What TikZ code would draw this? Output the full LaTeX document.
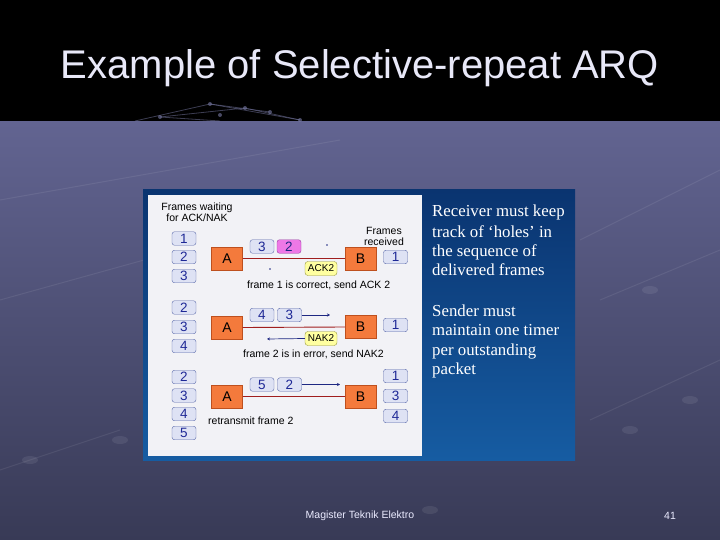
\documentclass[tikz,border=0pt]{standalone}
\usepackage{fontspec}
\setmainfont{Liberation Serif}
\newfontfamily\arial{Liberation Sans}
\usetikzlibrary{arrows.meta}
\definecolor{bgtop}{RGB}{98,100,145}
\definecolor{bgbot}{RGB}{56,58,86}
\definecolor{ptop}{RGB}{10,52,112}
\definecolor{pbot}{RGB}{22,92,162}
\definecolor{pwhite}{RGB}{242,242,246}
\definecolor{boxf}{RGB}{222,226,244}
\definecolor{boxb}{RGB}{90,105,170}
\definecolor{boxt}{RGB}{30,40,150}
\definecolor{stat}{RGB}{244,122,60}
\definecolor{statb}{RGB}{190,80,30}
\definecolor{pinkf}{RGB}{238,120,230}
\definecolor{pinkb}{RGB}{150,60,160}
\definecolor{ackf}{RGB}{255,255,160}
\definecolor{ackb}{RGB}{150,150,60}
\definecolor{redl}{RGB}{160,30,30}
\definecolor{navy}{RGB}{30,40,130}
\definecolor{titlec}{RGB}{232,232,248}
\definecolor{meshc}{RGB}{120,122,165}
\tikzset{
  fbox/.style={draw=boxb, fill=boxf, rounded corners=2.5pt, minimum width=24pt, minimum height=13.5pt, inner sep=0pt, text=boxt, font=\arial\fontsize{13.5}{13.5}\selectfont},
  pbox/.style={fbox, draw=pinkb, fill=pinkf, text=navy},
  station/.style={draw=statb, fill=stat, minimum width=31pt, minimum height=23pt, inner sep=0pt, font=\arial\fontsize{14}{14}\selectfont},
  abox/.style={draw=ackb, fill=ackf, rounded corners=3pt, minimum width=32pt, minimum height=14pt, inner sep=0pt, font=\arial\fontsize{10}{10}\selectfont},
  small/.style={font=\arial\fontsize{10.5}{10.5}\selectfont, inner sep=0pt},
  side/.style={anchor=base west, inner sep=0pt, text=white, font=\fontsize{16.8}{16.8}\selectfont},
  link/.style={draw=redl, line width=0.9pt},
  fwd/.style={draw=navy, line width=0.7pt, -{Stealth[length=3pt,width=3pt]}},
  mesh/.style={draw=meshc, line width=0.8pt, opacity=0.5},
}
\begin{document}
\begin{tikzpicture}[x=1pt,y=-1pt]
\useasboundingbox (0,0) rectangle (720,540);
% background
\fill[black] (0,0) rectangle (720,122);
\shade[top color=bgtop,bottom color=bgbot] (0,122) rectangle (720,540);
% faint mesh in the dark band
\draw[mesh] (135,121) -- (210,104) -- (300,120);
\draw[mesh] (160,117) -- (245,108) -- (300,120);
\draw[mesh] (160,117) -- (220,121);
\draw[mesh] (210,104) -- (270,112);
\foreach \p in {(210,104),(245,108),(160,117),(270,112),(300,120),(220,115)}
  \fill[meshc,opacity=0.6] \p circle (2);
% faint mesh in the grey area
\begin{scope}[draw=white, opacity=0.08, line width=1pt]
  \draw (0,200) -- (340,140);
  \draw (0,300) -- (180,250);
  \draw (580,240) -- (720,170);
  \draw (600,300) -- (720,250);
  \draw (590,420) -- (720,360);
  \draw (0,470) -- (120,430);
\end{scope}
\foreach \p in {(630,430),(690,400),(30,460),(120,440),(430,510),(650,290)}
  \fill[white,opacity=0.08] \p ellipse (8 and 4);
% title
\node (title) [text=titlec, font=\arial\fontsize{40}{40}\selectfont, inner sep=0pt] at (360,68) {Example of Selective-repeat ARQ};
% panel
\shade[top color=ptop,bottom color=pbot] (143,190) rectangle (575,460);
\fill[pwhite] (148,195) rectangle (422,456);
% right text
\node (r1) [side] at (432,217) {Receiver must keep};
\node (r2) [side] at (432,237) {track of `holes’ in};
\node (r3) [side] at (432,256) {the sequence of};
\node (r4) [side] at (432,275) {delivered frames};
\node (s1) [side] at (432,316) {Sender must};
\node (s2) [side] at (432,335) {maintain one timer};
\node (s3) [side] at (432,355) {per outstanding};
\node (s4) [side] at (432,374) {packet};
% headers
\node (hw1) [small, anchor=base] at (197,211) {Frames waiting};
\node (hw2) [small, anchor=base] at (197,222) {for ACK/NAK};
\node (hr1) [small, anchor=base] at (384,234) {Frames};
\node (hr2) [small, anchor=base] at (384,245) {received};
% ---- row 1
\node (w11) [fbox] at (184,238.5) {1};
\node (w12) [fbox] at (184,257) {2};
\node (w13) [fbox] at (184,276) {3};
\node (A1) [station] at (227,258.5) {A};
\node (B1) [station] at (360.5,258.5) {B};
\draw[link] (A1.east) -- (B1.west);
\node (f13) [fbox] at (262,246.5) {3};
\node (f12) [pbox] at (289,246.5) {2};
\node (ack) [abox] at (321,268.5) {ACK2};
\fill[navy] (327,245) circle (0.9);
\fill[navy] (270,269) circle (0.9);
\node (rv11) [fbox] at (395.5,257) {1};
\node (c1) [small, anchor=base west] at (247,288) {frame 1 is correct, send ACK 2};
% ---- row 2
\node (w22) [fbox] at (184,307.5) {2};
\node (w23) [fbox] at (184,327) {3};
\node (w24) [fbox] at (184,346) {4};
\node (A2) [station] at (227,327.5) {A};
\node (B2) [station] at (360.5,327) {B};
\draw[link] (A2.east) -- (B2.west);
\node (f24) [fbox] at (262,315) {4};
\node (f23) [fbox] at (289.5,315) {3};
\coordinate (e2) at (330,315);
\draw[fwd] (f23.east) -- (e2);
\node (nak) [abox] at (321,338.5) {NAK2};
\coordinate (n2) at (267,339);
\draw[fwd] (nak.west) -- (n2);
\node (rv21) [fbox] at (395.5,325) {1};
\node (c2) [small, anchor=base west] at (243,357) {frame 2 is in error, send NAK2};
% ---- row 3
\node (w32) [fbox] at (184,377) {2};
\node (w33) [fbox] at (184,395.5) {3};
\node (w34) [fbox] at (184,414) {4};
\node (w35) [fbox] at (184,433) {5};
\node (A3) [station] at (227,396.5) {A};
\node (B3) [station] at (360.5,396.5) {B};
\draw[link] (A3.east) -- (B3.west);
\node (f35) [fbox] at (262,384.5) {5};
\node (f32) [fbox] at (289.5,384.5) {2};
\coordinate (e3) at (340,384.5);
\draw[fwd] (f32.east) -- (e3);
\node (rv31) [fbox] at (395.5,376) {1};
\node (rv33) [fbox] at (395.5,396) {3};
\node (rv34) [fbox] at (395.5,416) {4};
\node (c3) [small, anchor=base west] at (208,424) {retransmit frame 2};
% footer
\node (foot) [font=\arial\fontsize{10.5}{10.5}\selectfont, text=white!92!blue, inner sep=0pt] at (360,516) {Magister Teknik Elektro};
\node (page) [font=\arial\fontsize{10.5}{10.5}\selectfont, text=white!92!blue, inner sep=0pt] at (670,516) {41};
\end{tikzpicture}
\end{document}
